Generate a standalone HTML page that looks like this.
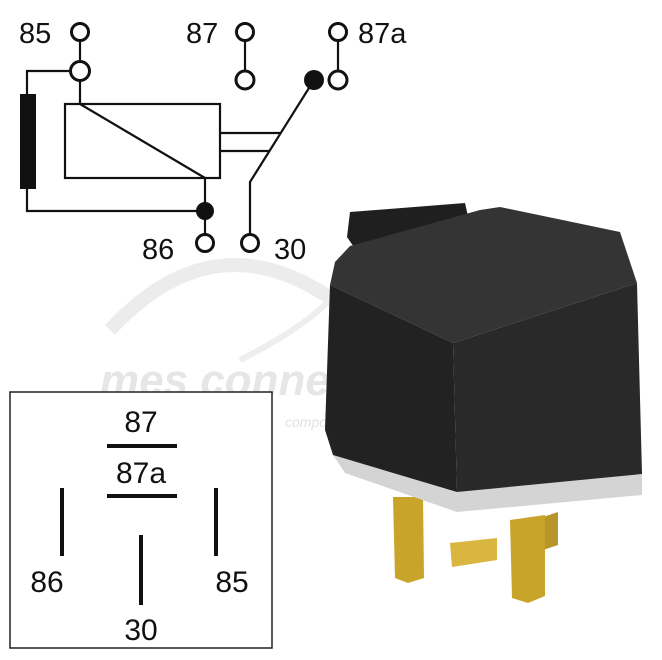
<!DOCTYPE html>
<html><head><meta charset="utf-8"><style>
html,body{margin:0;padding:0;background:#fff;}
svg{display:block}
text{font-family:"Liberation Sans",sans-serif;}
</style></head><body>
<svg width="662" height="660" viewBox="0 0 662 660" xmlns="http://www.w3.org/2000/svg">
<!-- watermark -->
<g fill="none" stroke="#ececec" stroke-width="14">
<path d="M110 330 Q230 200 370 330"/>
</g>
<path d="M240 360 Q300 330 330 300" stroke="#eee" stroke-width="6" fill="none"/>
<text x="100" y="395" font-size="44" font-style="italic" font-weight="bold" fill="#e6e6e6">mes connettori</text>
<text x="285" y="427" font-size="14" font-style="italic" fill="#e2e2e2">componenti per il cablaggio</text>

<!-- schematic -->
<g stroke="#111" stroke-width="2.2" fill="none">
<line x1="80" y1="41" x2="80" y2="61"/>
<line x1="80" y1="81" x2="80" y2="104"/>
<polyline points="70,71 27,71 27,94"/>
<polyline points="27,189 27,211 205,211"/>
<rect x="65" y="104" width="155" height="74"/>
<line x1="80" y1="104" x2="205" y2="178"/>
<line x1="205" y1="178" x2="205" y2="211"/>
<line x1="205" y1="211" x2="205" y2="234"/>
<line x1="220" y1="133" x2="281" y2="133"/>
<line x1="220" y1="151" x2="269" y2="151"/>
<polyline points="314,80 250,182 250,234"/>
<line x1="245" y1="41" x2="245" y2="71"/>
<line x1="338" y1="41" x2="338" y2="71"/>
<circle cx="80" cy="32" r="8.5" fill="#fff" stroke-width="3"/>
<circle cx="80" cy="71" r="9.5" fill="#fff" stroke-width="3"/>
<circle cx="245" cy="32" r="8.5" fill="#fff" stroke-width="3"/>
<circle cx="245" cy="80" r="9" fill="#fff" stroke-width="3"/>
<circle cx="338" cy="32" r="8.5" fill="#fff" stroke-width="3"/>
<circle cx="338" cy="80" r="9" fill="#fff" stroke-width="3"/>
<circle cx="205" cy="243" r="8.5" fill="#fff" stroke-width="3"/>
<circle cx="250" cy="243" r="8.5" fill="#fff" stroke-width="3"/>
</g>
<rect x="20" y="94" width="16" height="95" fill="#111"/>
<circle cx="314" cy="80" r="10" fill="#111"/>
<circle cx="205" cy="211" r="9" fill="#111"/>
<g font-size="29" fill="#111">
<text x="19" y="43">85</text>
<text x="186" y="43">87</text>
<text x="358" y="43">87a</text>
<text x="142" y="259">86</text>
<text x="274" y="259">30</text>
</g>

<!-- box -->
<rect x="10" y="392" width="262" height="256" fill="#fff" stroke="#222" stroke-width="1.5"/>
<g stroke="#111" stroke-width="4">
<line x1="107" y1="446" x2="177" y2="446"/>
<line x1="107" y1="496" x2="177" y2="496"/>
<line x1="62" y1="488" x2="62" y2="556"/>
<line x1="216" y1="488" x2="216" y2="556"/>
<line x1="141" y1="535" x2="141" y2="605"/>
</g>
<g font-size="30" fill="#111" text-anchor="middle">
<text x="141" y="432">87</text>
<text x="141" y="483">87a</text>
<text x="47" y="592">86</text>
<text x="232" y="592">85</text>
<text x="141" y="640">30</text>
</g>

<!-- relay -->
<!-- pins -->
<polygon points="543,517 558,512 558,545 543,550" fill="#b8952a"/>
<polygon points="393,497 423,497 424,578 408,583 395,578" fill="#c9a42a"/>
<polygon points="450,543 497,538 497,560 452,567" fill="#d8b640"/>
<polygon points="510,520 545,515 545,596 528,603 512,598" fill="#c9a42a"/>
<!-- gray base -->
<polygon points="333,455 457,492 642,470 642,495 457,512 345,473" fill="#d4d4d4"/>
<!-- tab -->
<polygon points="347,237 350,212 465,203 470,225 360,256" fill="#1f1f1f"/>
<!-- faces -->
<polygon points="335,262 350,246 480,210 500,207 620,232 637,283 453,343 330,285" fill="#343434"/>
<polygon points="453,343 637,283 642,474 457,492" fill="#292929"/>
<polygon points="330,285 453,343 457,492 333,455 325,430" fill="#222"/>
</svg>
</body></html>
